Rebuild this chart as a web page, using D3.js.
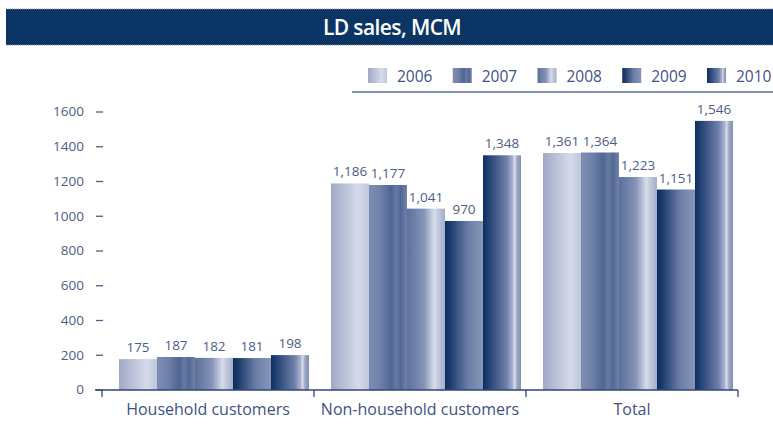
<!DOCTYPE html>
<html lang="en">
<head>
<meta charset="UTF-8">
<title>LD sales, MCM</title>
<script src="https://d3js.org/d3.v7.min.js"></script>
<style>
    body { margin: 0; background: #fff; }
    svg { display: block; font-family: "Open Sans", "Noto Sans", sans-serif; }
    .tick-label { fill: #4b5d88; font-size: 13.5px; }
    .val { fill: #4b5d88; font-size: 13.5px; text-anchor: middle; }
    .cat { fill: #3f5283; font-size: 16px; text-anchor: middle; }
    .leg { fill: #3f5283; font-size: 15.5px; }
</style>
</head>
<body>
<svg width="773" height="428"></svg>
<script>
    // data
    const categories = ["Household customers", "Non-household customers", "Total"];
    const years = ["2006", "2007", "2008", "2009", "2010"];
    const sales2006 = [175, 1186, 1361];
    const sales2007 = [187, 1177, 1364];
    const sales2008 = [182, 1041, 1223];
    const sales2009 = [181, 970, 1151];
    const sales2010 = [198, 1348, 1546];
    const yTicks = [0, 200, 400, 600, 800, 1000, 1200, 1400, 1600];

    const series = [sales2006, sales2007, sales2008, sales2009, sales2010];

    const svg = d3.select("svg");

    // bar gradients (one per year)
    const gradStops = {
        "2006": [[0, "#9fa8c6"], [0.72, "#d6dbea"], [1, "#bfc6da"]],
        "2007": [[0, "#7d8cb1"], [0.3, "#7081a9"], [0.58, "#4f6693"], [0.72, "#667aa3"], [0.84, "#526894"], [1, "#7183aa"]],
        "2008": [[0, "#5d709a"], [0.45, "#8594b8"], [0.72, "#d7dce9"], [0.85, "#bcc4d9"], [1, "#a5aecb"]],
        "2009": [[0, "#0b2f61"], [0.12, "#19396a"], [0.6, "#6b7da6"], [1, "#8797b9"]],
        "2010": [[0, "#0b2f61"], [0.3, "#3c5585"], [0.62, "#6e80a8"], [0.78, "#a9b3ce"], [0.83, "#d8dcea"], [0.9, "#9ca7c5"], [1, "#7f8fb4"]]
    };
    const defs = svg.append("defs");
    years.forEach(yr => {
        const g = defs.append("linearGradient")
            .attr("id", "g" + yr)
            .attr("x1", 0).attr("x2", 1).attr("y1", 0).attr("y2", 0);
        gradStops[yr].forEach(s => {
            g.append("stop").attr("offset", s[0]).attr("stop-color", s[1]);
        });
    });

    // title banner
    svg.append("rect")
        .attr("x", 6).attr("y", 9).attr("width", 767).attr("height", 36)
        .attr("fill", "#0a3564");
    svg.append("line")
        .attr("x1", 6).attr("x2", 773).attr("y1", 9).attr("y2", 9)
        .attr("stroke", "#7c889e").attr("stroke-dasharray", "1,1");
    svg.append("line")
        .attr("x1", 6).attr("x2", 773).attr("y1", 45).attr("y2", 45)
        .attr("stroke", "#7c889e").attr("stroke-dasharray", "1,1");
    svg.append("text")
        .attr("x", 392).attr("y", 35)
        .attr("text-anchor", "middle")
        .attr("fill", "#fff")
        .style("font-size", "21px")
        .style("font-weight", 600)
        .style("letter-spacing", "-0.6px")
        .text("LD sales, MCM");

    // scales
    const y = d3.scaleLinear().domain([0, 1600]).range([389.5, 111.5]);
    const x0 = d3.scaleBand().domain(categories).range([102, 738]);
    const x1 = d3.scaleBand().domain(years).range([17, 207]);

    // y axis
    const yAxis = svg.append("g")
        .attr("transform", "translate(103,0)")
        .call(d3.axisLeft(y).tickValues(yTicks).tickSize(7).tickPadding(12).tickFormat(d3.format("d")));
    yAxis.select(".domain").remove();
    yAxis.selectAll(".tick line").attr("stroke", "#4b5d88").attr("stroke-width", 1.3);
    yAxis.selectAll(".tick text").attr("class", "tick-label").attr("fill", null).style("font-size", null).style("font-family", null);
    yAxis.attr("font-family", null).attr("font-size", null);

    // bars
    const groups = svg.selectAll("g.cat-group")
        .data(categories)
        .enter()
        .append("g")
        .attr("class", "cat-group")
        .attr("transform", d => `translate(${x0(d)},0)`);

    groups.selectAll("rect")
        .data((c, ci) => years.map((yr, si) => ({ yr: yr, v: series[si][ci] })))
        .enter()
        .append("rect")
        .attr("x", d => x1(d.yr))
        .attr("y", d => y(d.v))
        .attr("width", x1.bandwidth())
        .attr("height", d => y(0) - y(d.v) + 0.5)
        .attr("fill", d => `url(#g${d.yr})`);

    groups.selectAll("text.val")
        .data((c, ci) => years.map((yr, si) => ({ yr: yr, v: series[si][ci] })))
        .enter()
        .append("text")
        .attr("class", "val")
        .attr("x", d => x1(d.yr) + x1.bandwidth() / 2)
        .attr("y", d => y(d.v) - 7)
        .text(d => d3.format(",")(d.v));

    // x baseline with group separators
    svg.append("line")
        .attr("x1", 95).attr("x2", x0.range()[1])
        .attr("y1", 390).attr("y2", 390)
        .attr("stroke", "#2f4677").attr("stroke-width", 1.5);
    const sepX = categories.map(c => x0(c)).concat([x0.range()[1]]);
    svg.selectAll("line.sep")
        .data(sepX)
        .enter()
        .append("line")
        .attr("class", "sep")
        .attr("x1", d => d).attr("x2", d => d)
        .attr("y1", 390).attr("y2", 397)
        .attr("stroke", "#2f4677").attr("stroke-width", 1.3);

    svg.selectAll("text.cat")
        .data(categories)
        .enter()
        .append("text")
        .attr("class", "cat")
        .attr("x", d => x0(d) + x0.bandwidth() / 2)
        .attr("y", 415)
        .text(d => d);

    // legend
    const legX = d3.scalePoint().domain(years).range([368, 707]);
    const leg = svg.selectAll("g.leg-item")
        .data(years)
        .enter()
        .append("g")
        .attr("class", "leg-item")
        .attr("transform", d => `translate(${legX(d)},0)`);
    leg.append("rect")
        .attr("x", 0).attr("y", 68).attr("width", 19).attr("height", 15)
        .attr("fill", d => `url(#g${d})`);
    leg.append("text")
        .attr("class", "leg")
        .attr("x", 29).attr("y", 82)
        .text(d => d);
    svg.append("line")
        .attr("x1", 352).attr("x2", 773).attr("y1", 92).attr("y2", 92)
        .attr("stroke", "#5a6d95").attr("stroke-width", 1.5);
</script>
</body>
</html>
